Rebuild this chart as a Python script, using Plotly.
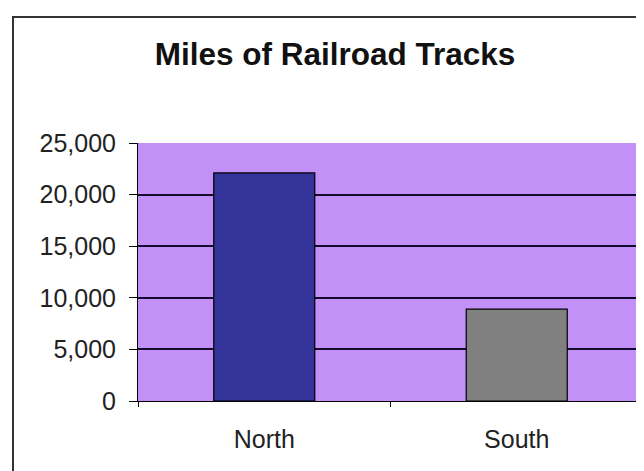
import plotly.graph_objects as go

# Данные
regions = ['North', 'South']
miles = [22100, 8900]
bar_colors = ['#333399', '#808080']

y_ticks = [0, 5000, 10000, 15000, 20000, 25000]

# страница рисуется со сдвигом 8 px (отступ body), учитываем это в полях
fig = go.Figure(data=go.Bar(
    x=regions,
    y=miles,
    width=0.4,
    marker=dict(color=bar_colors, line=dict(color='#000000', width=1.2))
))

fig.update_layout(
    width=644,
    height=471,
    margin=dict(l=130, r=9, t=135, b=78),
    paper_bgcolor='white',
    plot_bgcolor='#C390F8',
    font=dict(family='Liberation Sans, Arial', size=25, color='#222222'),
    title=dict(
        text='<b>Miles of Railroad Tracks</b>',
        font=dict(size=31.5, color='#111111'),
        x=327 / 644, xanchor='center',
        y=1 - 46 / 471, yanchor='middle'
    ),
    showlegend=False,
    bargap=0.6
)

fig.update_yaxes(
    range=[0, 25000],
    tickvals=y_ticks,
    tickformat=',',
    showgrid=True, gridcolor='#140a30', gridwidth=1.5,
    showline=True, linecolor='#000000', linewidth=1,
    ticks='outside', ticklen=8, tickcolor='#000000',
    ticklabelstandoff=8,
    zeroline=False
)

fig.update_xaxes(
    showline=True, linecolor='#000000', linewidth=1,
    ticks='outside', ticklen=5, tickcolor='#000000',
    tickson='boundaries',
    ticklabelstandoff=16,
    showgrid=False
)

# Рамка диаграммы (правый и нижний края уходят за кадр)
fig.add_shape(
    type='rect', xref='paper', yref='paper',
    x0=-125 / 505, x1=1 + 20 / 505,
    y0=-90 / 258, y1=1 + 126 / 258,
    line=dict(color='#333333', width=2),
    fillcolor='rgba(0,0,0,0)',
    layer='below'
)

fig.write_html('out.html')
